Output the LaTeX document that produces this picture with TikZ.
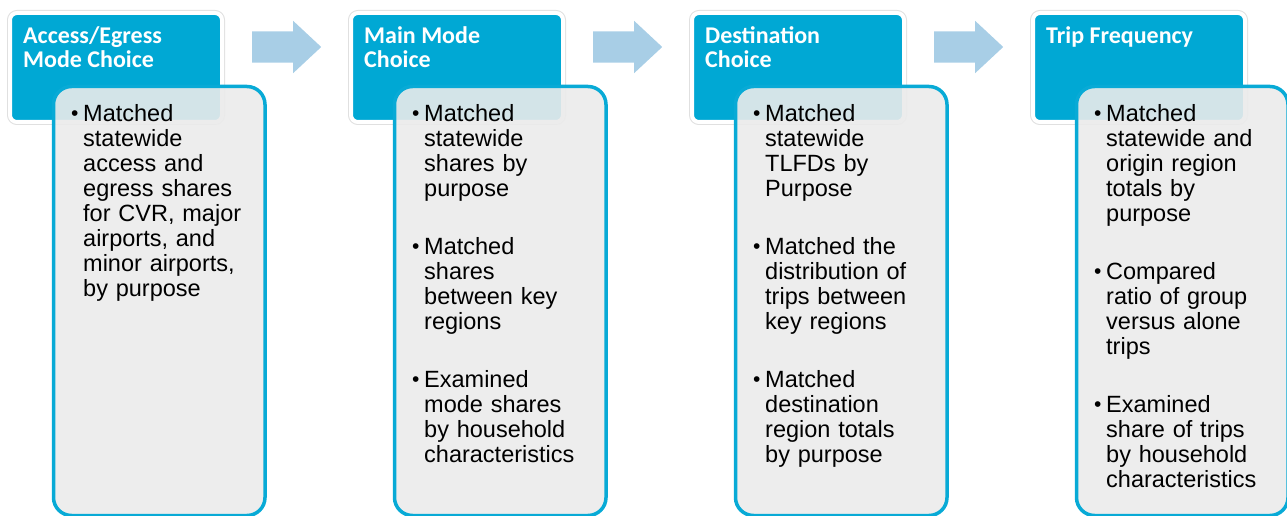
\documentclass[tikz,border=0pt]{standalone}
\usepackage{fontspec}
\setmainfont{Liberation Sans}
\newfontfamily\headfont{Carlito}
\usepackage{tikz}
\usetikzlibrary{shapes.arrows}

\definecolor{headblue}{RGB}{0,168,212}
\definecolor{edgeblue}{RGB}{8,170,214}
\definecolor{boxgray}{RGB}{235,235,235}
\definecolor{arrowblue}{RGB}{168,206,230}

\newcommand{\checkitem}[1]{\makebox[12pt][l]{\raisebox{0.5pt}{\fontsize{21}{21}\selectfont\textbullet}}\parbox[t]{170pt}{#1}}

\begin{document}
\begin{tikzpicture}[x=1pt, y=-1pt,
		head/.style={rounded corners=7pt, fill=headblue, draw=white, line width=4pt, preaction={draw=black!12, line width=6pt}, minimum width=212pt, minimum height=109pt, anchor=north west, inner sep=0pt},
		title/.style={anchor=north west, inner sep=0pt, text=white, align=left, font=\headfont\bfseries\fontsize{24}{24}\selectfont},
		card/.style={rounded corners=18pt, draw=edgeblue, line width=3.5pt, fill=boxgray, fill opacity=0.9, draw opacity=1, minimum width=211.5pt, minimum height=429pt, anchor=north west, inner sep=0pt},
		body/.style={anchor=north west, inner sep=0pt, align=left, text width=194pt, font=\fontsize{23.5}{25}\selectfont},
		flow/.style={single arrow, fill=arrowblue, draw=none, minimum height=69pt, inner xsep=0pt, inner ysep=15.5pt, single arrow head extend=10.5pt, single arrow tip angle=86, anchor=tail}]
			\useasboundingbox (0,0) rectangle (1287,516);

			% access / egress
			\node[head]	(h1)	at (8, 11)		{};
			\node[card]	(c1)	at (51.75, 84.75)	{};
			\node[title]	(t1)	at (23, 26)		{Access/Egress\\Mode Choice};
			\node[body]	(b1)	at (71, 104)		{\checkitem{Matched\\statewide\\access and\\egress shares\\for CVR, major\\airports, and\\minor airports,\\by purpose}};

			% main mode
			\node[head]	(h2)	at (349, 11)		{};
			\node[card]	(c2)	at (392.75, 84.75)	{};
			\node[title]	(t2)	at (364, 26)		{Main Mode\\Choice};
			\node[body]	(b2)	at (412, 104)		{\checkitem{Matched\\statewide\\shares by\\purpose}\\[35pt]
				\checkitem{Matched\\shares\\between key\\regions}\\[35pt]
				\checkitem{Examined\\mode shares\\by household\\characteristics}};

			% destination
			\node[head]	(h3)	at (690, 11)		{};
			\node[card]	(c3)	at (733.75, 84.75)	{};
			\node[title]	(t3)	at (705, 26)		{Destination\\Choice};
			\node[body]	(b3)	at (753, 104)		{\checkitem{Matched\\statewide\\TLFDs by\\Purpose}\\[35pt]
				\checkitem{Matched the\\distribution of\\trips between\\key regions}\\[35pt]
				\checkitem{Matched\\destination\\region totals\\by purpose}};

			% trip frequency
			\node[head]	(h4)	at (1031, 11)		{};
			\node[card]	(c4)	at (1074.75, 84.75)	{};
			\node[title]	(t4)	at (1046, 26)		{Trip Frequency};
			\node[body]	(b4)	at (1094, 104)		{\checkitem{Matched\\statewide and\\origin region\\totals by\\purpose}\\[35pt]
				\checkitem{Compared\\ratio of group\\versus alone\\trips}\\[35pt]
				\checkitem{Examined\\share of trips\\by household\\characteristics}};

			\node[flow]	(a1)	at (252, 47)	{};
			\node[flow]	(a2)	at (593, 47)	{};
			\node[flow]	(a3)	at (934, 47)	{};
		\end{tikzpicture}
\end{document}
